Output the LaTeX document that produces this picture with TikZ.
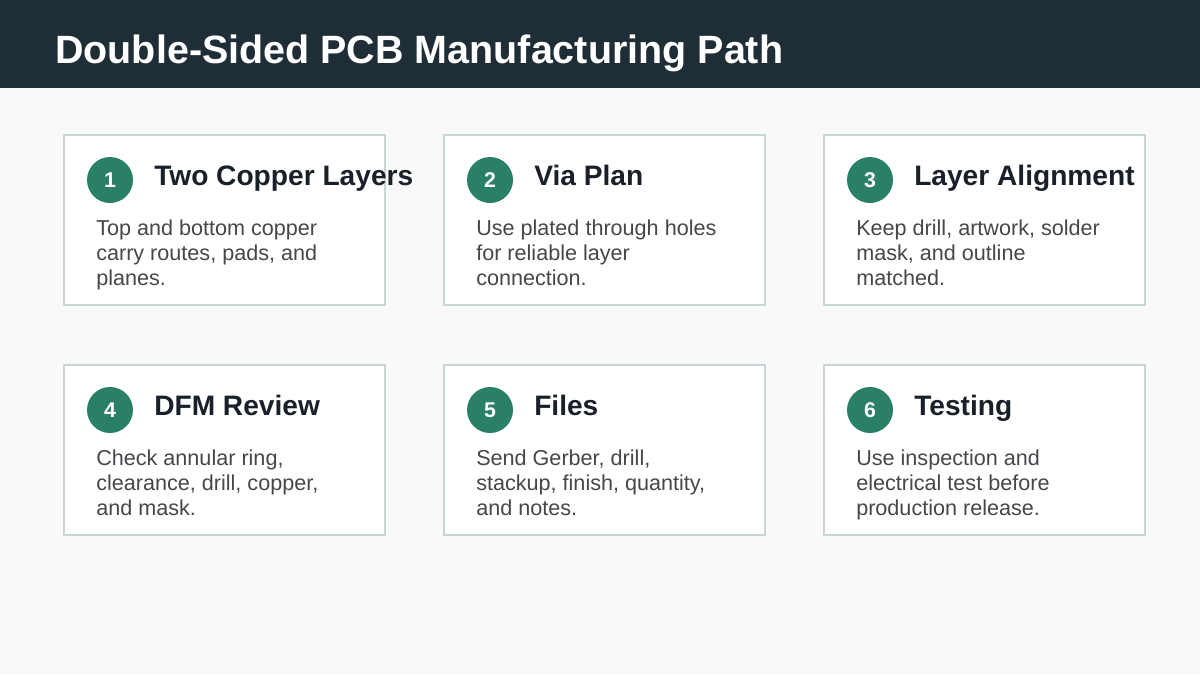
\documentclass[tikz,border=0pt]{standalone}
\usepackage{fontspec}
\setmainfont{Liberation Sans}
\usepackage{tikz}

\definecolor{headbg}{HTML}{1F2D36}
\definecolor{pagebg}{HTML}{F9F9F9}
\definecolor{cardline}{HTML}{CAD6D2}
\definecolor{stepgreen}{HTML}{2A8066}
\definecolor{headtext}{HTML}{1A2029}
\definecolor{bodytext}{HTML}{45474B}

\tikzset{
	card/.style={draw=cardline, line width=1.5pt, fill=white},
	badge/.style={circle, fill=stepgreen, minimum size=34.5pt, inner sep=0pt,
		text=white, font=\fontsize{16}{18}\selectfont\bfseries},
	cardtitle/.style={anchor=base west, inner sep=0pt, text=headtext,
		font=\fontsize{21.1}{25}\selectfont\bfseries},
	cardbody/.style={anchor=base west, inner sep=0pt, text=bodytext, align=left,
		font=\fontsize{16.2}{18.4}\selectfont}
}

\begin{document}
\begin{tikzpicture}[x=0.75pt, y=-0.75pt]
			% page and header band
			\fill[pagebg] (0, 0) rectangle (1200, 675);
			\useasboundingbox (0, 0) rectangle (1200, 675);
			\fill[headbg] (0, 0) rectangle (1200, 88);
			\node[anchor=base west, inner sep=0pt, text=white,
				font=\fontsize{29.6}{34}\selectfont\bfseries] (title) at (55, 63)
				{Double-Sided PCB Manufacturing Path};
			
			% the six steps (body node sits on its last baseline)
			\foreach \n/\x/\y/\head/\body in {
					1/64/135/{Two Copper Layers}/{Top and bottom copper\\carry routes, pads, and\\planes.},
					2/444/135/{Via Plan}/{Use plated through holes\\for reliable layer\\connection.},
					3/824/135/{Layer Alignment}/{Keep drill, artwork, solder\\mask, and outline\\matched.},
					4/64/365/{DFM Review}/{Check annular ring,\\clearance, drill, copper,\\and mask.},
					5/444/365/{Files}/{Send Gerber, drill,\\stackup, finish, quantity,\\and notes.},
					6/824/365/{Testing}/{Use inspection and\\electrical test before\\production release.}}{
				\draw[card] (\x, \y) rectangle ++(321, 170);
				\node[badge] (badge\n) at (\x+46, \y+45) {\n};
				\node[cardtitle] (head\n) at (\x+90, \y+50) {\head};
				\node[cardbody] (body\n) at (\x+32, \y+150) {\body};
			}
		\end{tikzpicture}
\end{document}
